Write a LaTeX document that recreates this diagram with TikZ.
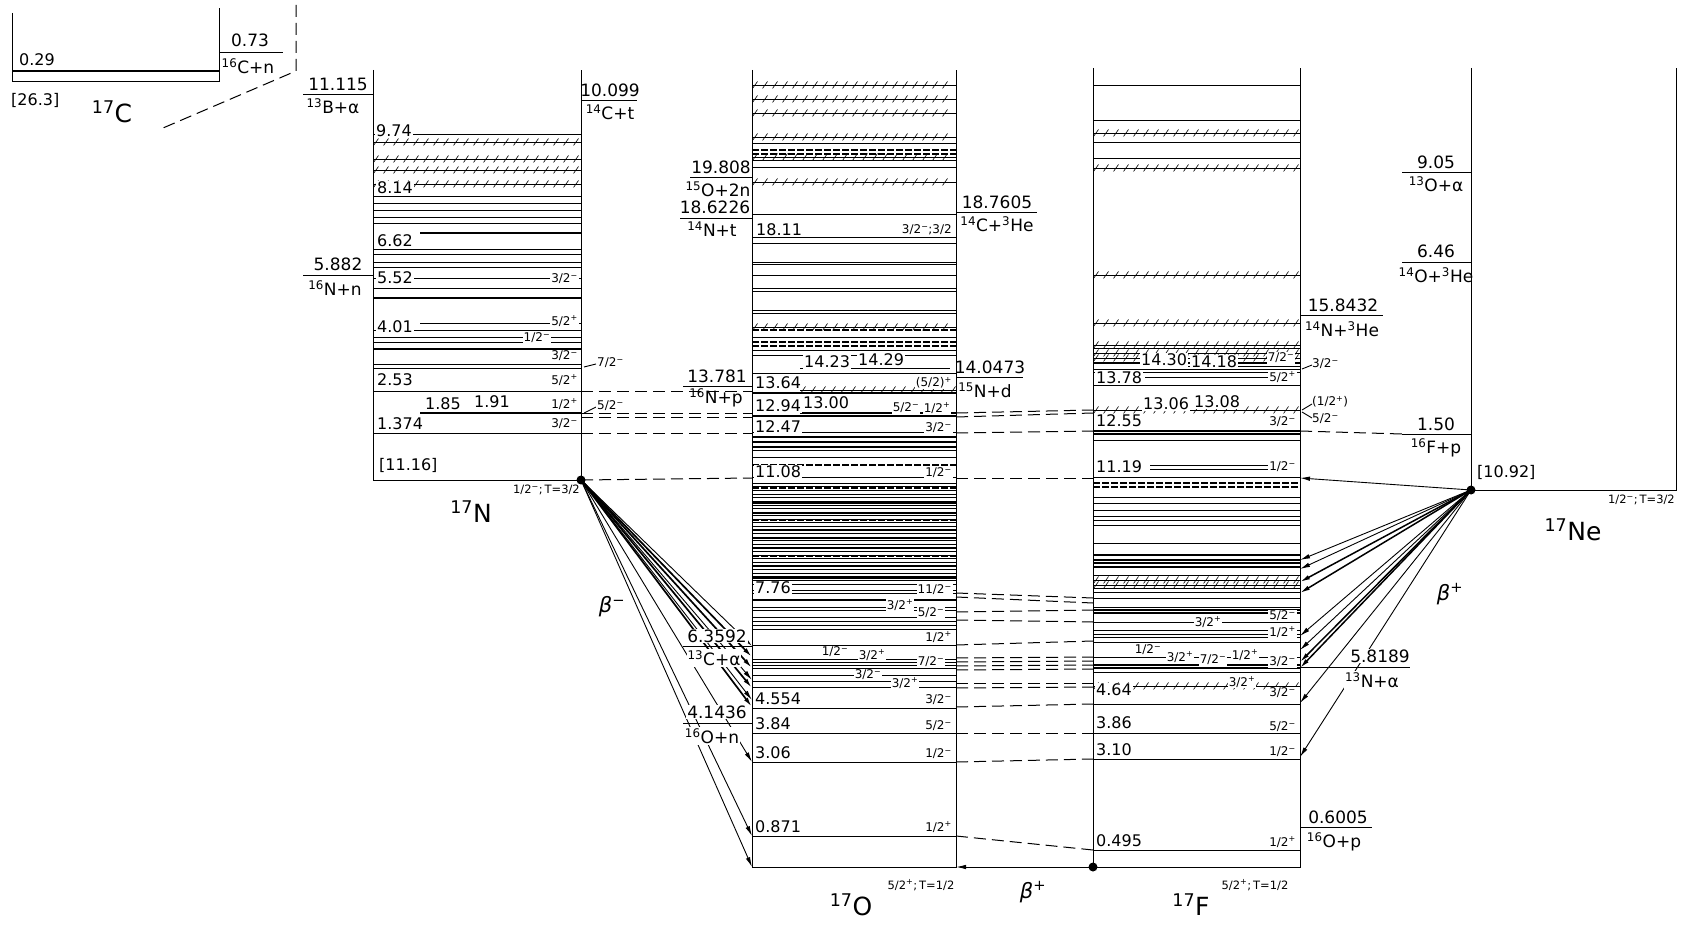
\documentclass[tikz,border=0pt]{standalone}
\usepackage{fontspec}
\setmainfont{DejaVu Sans}
\usetikzlibrary{decorations.markings,arrows.meta}
\newcommand\Jp{\textsuperscript{+}}
\newcommand\Jm{\textsuperscript{−}}
\newcommand\Sp[1]{\textsuperscript{#1}}
\tikzset{
 lv/.style={line width=0.9pt},
 lvk/.style={line width=2.2pt},
 hat/.style={line width=0.9pt, postaction={decorate}, decoration={markings, mark=between positions 3pt and -3pt step 10pt with {\draw[line width=0.6pt] (-2.5pt,-3.5pt) -- (2.5pt,3.5pt);}}},
 dd/.style={line width=1.2pt, dash pattern=on 7pt off 2pt},
 dsh/.style={line width=1pt, dash pattern=on 12pt off 6pt},
 frame/.style={line width=1pt},
 lab/.style={font=\fontsize{16}{16}\selectfont, anchor=west, inner sep=1pt},
 spn/.style={font=\fontsize{12}{12}\selectfont, inner sep=1pt},
 sml/.style={font=\fontsize{11.5}{11.5}\selectfont, inner sep=1pt},
 thr/.style={font=\fontsize{17}{17}\selectfont, inner sep=1pt},
 nuc/.style={font=\fontsize{25}{25}\selectfont, inner sep=1pt},
 bet/.style={font=\fontsize{21}{21}\selectfont\itshape, inner sep=1pt},
 bar/.style={-{Latex[length=10pt,width=4.5pt]}},
}
\begin{document}
\begin{tikzpicture}[x=1pt,y=-1pt]
\useasboundingbox (0,0) rectangle (1690,925);
\fill[white] (0,0) rectangle (1690,925);

% ---------------- 17C
\draw[frame] (12,13) -- (12,82) -- (219,82) -- (219,8);
\draw[line width=1.6pt] (12,71) -- (219,71);
\draw[lv] (219,52) -- (283,52);
\draw[dsh] (296,5) -- (296,71) -- (163,128);
\node[lab] (c029) at (18,60) {0.29};
\node[lab] (c263) at (10,100) {[26.3]};
\node[nuc] (C17) at (112,112) {\Sp{17}C};
\node[thr] (c073) at (250,40) {0.73};
\node[thr] (c16n) at (248,66) {\Sp{16}C+n};

% ---------------- 17N
\draw[frame] (373,70) -- (373,480) -- (581,480) -- (581,70);
\foreach \y in {134,196,203,210,217,223,249,254,262,267,278,288,330,337,342,364,368,391,433}
  \draw[lv] (373,\y) -- (581,\y);
\foreach \y in {298,349} \draw[line width=1.8pt] (373,\y) -- (581,\y);
\foreach \y in {142,159,170,184} \draw[hat] (373,\y) -- (581,\y);
\draw[line width=1.8pt] (420,233) -- (581,233);
\draw[lv] (420,323) -- (581,323);
\draw[line width=1.8pt] (420,413) -- (581,413);
\draw[lv] (303,94) -- (373,94);
\draw[lv] (303,275) -- (373,275);
\draw[lv] (581,100) -- (637,100);
\coordinate (Ndot) at (581,480);

% ---------------- 17O
\draw[frame] (752,70) -- (752,867) -- (956,867) -- (956,70);
\foreach \y in {143,160,167,214,237,243,262,264,275,288,291,310,313,337,350,355,373,432,450,457,477,
  483,486,490,494,497,501,505,508,512,515,519,522,526,529,533,537,540,544,548,551,555,558,562,566,569,573,576,580,584,
  590,593,607,610,617,621,625,629,645,659,662,665,668,675,681,687,708,733,762,836}
  \draw[lv] (752,\y) -- (956,\y);
\foreach \y in {393,416,437,442,447,503,513,530,538,548,566,578,600} \draw[lvk] (752,\y) -- (956,\y);
\foreach \y in {85,99,113,137,157,182,327} \draw[hat] (752,\y) -- (956,\y);
\foreach \y in {150,154,330,342,346,465,488,520,556} \draw[dd] (752,\y) -- (956,\y);
\draw[lv] (800,368) -- (950,368);
\draw[hat] (800,390) -- (956,390);
\draw[lvk] (800,413) -- (956,413);
\draw[lv] (690,177) -- (752,177);
\draw[lv] (680,218) -- (752,218);
\draw[lv] (683,386) -- (752,386);
\draw[lv] (683,646) -- (752,646);
\draw[lv] (683,723) -- (752,723);
\draw[lv] (956,212) -- (1037,212);
\draw[lv] (956,377) -- (1023,377);

% ---------------- 17F
\draw[frame] (1093,68) -- (1093,867) -- (1300,867) -- (1300,68);
\foreach \y in {85,120,142,158,348,369,372,385,440,477,497,503,510,516,520,525,543,575,588,592,598,607,630,634,637,642,657,672,704,733,759,850}
  \draw[lv] (1093,\y) -- (1300,\y);
\foreach \y in {363,431,434,555,560,563,567,610,613,665,668} \draw[lvk] (1093,\y) -- (1300,\y);
\foreach \y in {133,168,275,323,345,353,358,410,580,585,686} \draw[hat] (1093,\y) -- (1300,\y);
\foreach \y in {483,487} \draw[dd] (1093,\y) -- (1300,\y);
\draw[lv] (1140,366) -- (1300,366);
\draw[lv] (1145,377) -- (1270,377);
\draw[lv] (1150,465) -- (1275,465);
\draw[lv] (1150,469) -- (1275,469);
\draw[lv] (1093,622) -- (1300,622);
\draw[lv] (1300,315) -- (1383,315);
\draw[lv] (1300,667) -- (1410,667);
\draw[lv] (1300,827) -- (1372,827);

% ---------------- 17Ne
\draw[frame] (1471,68) -- (1471,490) -- (1676,490) -- (1676,68);
\draw[lv] (1402,172) -- (1471,172);
\draw[lv] (1402,262) -- (1471,262);
\draw[lv] (1402,434) -- (1471,434);
\coordinate (Nedot) at (1471,490);
\coordinate (Fdot) at (1093,867);

% ---------------- dashed correspondences
\draw[dsh] (581,391) -- (752,391);
\draw[dsh] (581,413) -- (752,413);
\draw[dsh] (581,417) -- (752,417);
\draw[dsh] (581,433) -- (752,433);
\draw[dsh] (Ndot) -- (752,478);
\draw[dsh] (956,413) -- (1093,410);
\draw[dsh] (956,417) -- (1093,413);
\draw[dsh] (956,433) -- (1093,431);
\draw[dsh] (956,478) -- (1093,478);
\draw[dsh] (1300,431) -- (1402,434);
\foreach \a/\b in {593/598,597/603,612/610,620/622,645/641,658/657,662/661,666/665,670/669,683/683,688/687,707/704,733/733,762/759,836/850}
  \draw[dsh] (956,\a) -- (1093,\b);

% ---------------- beta- decays of 17N
\foreach \t in {657,668,688,707} \draw[line width=1.7pt, bar] (Ndot) -- (752,\t);
\foreach \t in {646,680,700,762,836,867} \draw[lv, bar] (Ndot) -- (752,\t);
\fill (Ndot) circle (4.5pt);

% ---------------- beta+ decays of 17Ne
\draw[lv, bar] (Nedot) -- (1300,478);
\foreach \t in {560,569,636,650,703,757} \draw[lv, bar] (Nedot) -- (1300,\t);
\foreach \t in {582,593,662,668} \draw[line width=1.5pt, bar] (Nedot) -- (1300,\t);
\fill (Nedot) circle (4.5pt);

% ---------------- 17F -> 17O
\draw[lv, bar] (Fdot) -- (956,867);
\fill (Fdot) circle (4.5pt);

% ---------------- labels 17N
\node[lab, fill=white] at (375,131) {9.74};
\node[lab, fill=white] at (376,188) {8.14};
\node[lab, fill=white] at (376,241) {6.62};
\node[lab, fill=white] at (376,278) {5.52};
\node[spn, fill=white, anchor=east] at (579,279) {3/2\Jm};
\node[lab, fill=white] at (376,327) {4.01};
\node[spn, fill=white, anchor=east] at (579,321) {5/2\Jp};
\node[spn, fill=white] at (537,338) {1/2\Jm};
\node[spn, anchor=east] at (579,356) {3/2\Jm};
\draw[lv] (584,367) -- (596,364);
\node[spn, anchor=west] at (596,363) {7/2\Jm};
\node[lab] at (376,380) {2.53};
\node[spn, anchor=east] at (579,380) {5/2\Jp};
\node[lab] at (424,404) {1.85};
\node[lab] at (473,402) {1.91};
\node[spn, anchor=east] at (579,404) {1/2\Jp};
\draw[lv] (584,413) -- (596,407);
\node[spn, anchor=west, fill=white] at (596,406) {5/2\Jm};
\node[lab] at (376,424) {1.374};
\node[spn, anchor=east] at (579,424) {3/2\Jm};
\node[lab] at (378,465) {[11.16]};
\node[sml, anchor=north east] at (581,484) {1/2\Jm;\,T=3/2};
\node[nuc] (N17) at (471,512) {\Sp{17}N};
\node[thr] at (338,84) {11.115};
\node[thr] at (333,106) {\Sp{13}B+α};
\node[thr] at (338,264) {5.882};
\node[thr] at (335,288) {\Sp{16}N+n};
\node[thr] at (610,90) {10.099};
\node[thr] at (610,112) {\Sp{14}C+t};

% ---------------- labels 17O
\node[lab] at (755,230) {18.11};
\node[spn, anchor=east] at (953,230) {3/2\Jm;3/2};
\node[lab, fill=white] at (803,362) {14.23};
\node[lab, fill=white] at (857,360) {14.29};
\node[lab, fill=white] at (754,383) {13.64};
\node[spn, fill=white, anchor=east] at (953,383) {(5/2)\Jp};
\node[lab, fill=white] at (754,406) {12.94};
\node[lab, fill=white] at (802,403) {13.00};
\node[spn, fill=white] at (906,408) {5/2\Jm};
\node[spn, fill=white] at (937,408) {1/2\Jp};
\node[lab, fill=white] at (754,427) {12.47};
\node[spn, fill=white, anchor=east] at (953,428) {3/2\Jm};
\node[lab, fill=white] at (754,472) {11.08};
\node[spn, fill=white, anchor=east] at (953,473) {1/2\Jm};
\node[lab, fill=white] at (754,588) {7.76};
\node[spn, fill=white, anchor=east] at (953,590) {11/2\Jm};
\node[spn, fill=white] at (900,605) {3/2\Jp};
\node[spn, fill=white] at (931,613) {5/2\Jm};
\node[spn, anchor=east] at (953,637) {1/2\Jp};
\node[spn, fill=white] at (835,652) {1/2\Jm};
\node[spn, fill=white] at (872,655) {3/2\Jp};
\node[spn, fill=white] at (931,662) {7/2\Jm};
\node[spn, fill=white] at (868,675) {3/2\Jm};
\node[spn, fill=white] at (905,683) {3/2\Jp};
\node[lab] at (754,699) {4.554};
\node[spn, anchor=east] at (953,700) {3/2\Jm};
\node[lab] at (754,724) {3.84};
\node[spn, anchor=east] at (953,726) {5/2\Jm};
\node[lab] at (754,753) {3.06};
\node[spn, anchor=east] at (953,754) {1/2\Jm};
\node[lab] at (754,827) {0.871};
\node[spn, anchor=east] at (953,827) {1/2\Jp};
\node[sml] at (921,885) {5/2\Jp;\,T=1/2};
\node[nuc] (O17) at (851,905) {\Sp{17}O};
\node[thr] at (721,167) {19.808};
\node[thr] at (718,189) {\Sp{15}O+2n};
\node[thr] at (715,207) {18.6226};
\node[thr] at (712,229) {\Sp{14}N+t};
\node[thr, fill=white] at (717,376) {13.781};
\node[thr] at (716,398) {\Sp{16}N+p};
\node[thr, fill=white] at (717,636) {6.3592};
\node[thr, fill=white] at (714,658) {\Sp{13}C+α};
\node[thr, fill=white] at (717,712) {4.1436};
\node[thr, fill=white] at (712,736) {\Sp{16}O+n};
\node[thr] at (997,202) {18.7605};
\node[thr] at (997,224) {\Sp{14}C+\Sp{3}He};
\node[thr] at (990,367) {14.0473};
\node[thr] at (985,390) {\Sp{15}N+d};

% ---------------- labels 17F
\node[lab, fill=white] at (1140,360) {14.30};
\node[lab, fill=white] at (1190,362) {14.18};
\node[spn, fill=white] at (1281,358) {7/2\Jm};
\draw[lv] (1302,369) -- (1312,365);
\node[spn, anchor=west] at (1311,364) {3/2\Jm};
\node[lab, fill=white] at (1095,378) {13.78};
\node[spn, fill=white, anchor=east] at (1297,377) {5/2\Jp};
\node[lab, fill=white] at (1142,404) {13.06};
\node[lab, fill=white] at (1193,402) {13.08};
\draw[lv] (1302,410) -- (1312,404);
\node[spn, anchor=west] at (1311,402) {(1/2\Jp)};
\draw[lv] (1302,412) -- (1312,418);
\node[spn, anchor=west] at (1311,419) {5/2\Jm};
\node[lab] at (1095,421) {12.55};
\node[spn, anchor=east] at (1297,422) {3/2\Jm};
\node[lab, fill=white] at (1095,467) {11.19};
\node[spn, fill=white, anchor=east] at (1297,467) {1/2\Jm};
\node[spn, fill=white, anchor=east] at (1297,616) {5/2\Jm};
\node[spn, fill=white] at (1208,622) {3/2\Jp};
\node[spn, fill=white, anchor=east] at (1297,632) {1/2\Jp};
\node[spn, fill=white] at (1148,650) {1/2\Jm};
\node[spn, fill=white] at (1180,657) {3/2\Jp};
\node[spn, fill=white] at (1213,660) {7/2\Jm};
\node[spn, fill=white] at (1245,655) {1/2\Jp};
\node[spn, fill=white, anchor=east] at (1297,662) {3/2\Jm};
\node[spn, fill=white] at (1242,682) {3/2\Jp};
\node[lab, fill=white] at (1095,690) {4.64};
\node[spn, fill=white, anchor=east] at (1297,693) {3/2\Jm};
\node[lab] at (1095,723) {3.86};
\node[spn, anchor=east] at (1297,727) {5/2\Jm};
\node[lab] at (1095,750) {3.10};
\node[spn, anchor=east] at (1297,752) {1/2\Jm};
\node[lab] at (1095,841) {0.495};
\node[spn, anchor=east] at (1297,842) {1/2\Jp};
\node[sml] at (1255,885) {5/2\Jp;\,T=1/2};
\node[nuc] (F17) at (1191,905) {\Sp{17}F};
\node[thr] at (1343,305) {15.8432};
\node[thr] at (1342,329) {\Sp{14}N+\Sp{3}He};
\node[thr, fill=white] at (1380,656) {5.8189};
\node[thr, fill=white] at (1372,680) {\Sp{13}N+α};
\node[thr] at (1338,817) {0.6005};
\node[thr] at (1334,842) {\Sp{16}O+p};

% ---------------- labels 17Ne
\node[thr] at (1436,162) {9.05};
\node[thr] at (1436,184) {\Sp{13}O+α};
\node[thr] at (1436,251) {6.46};
\node[thr] at (1436,275) {\Sp{14}O+\Sp{3}He};
\node[thr] at (1436,424) {1.50};
\node[thr] at (1436,448) {\Sp{16}F+p};
\node[lab] at (1476,472) {[10.92]};
\node[sml, anchor=north east] at (1676,494) {1/2\Jm;\,T=3/2};
\node[nuc] (Ne17) at (1573,530) {\Sp{17}Ne};

% ---------------- beta labels
\node[bet] at (612,607) {β\Jm};
\node[bet] at (1450,594) {β\Jp};
\node[bet] at (1033,892) {β\Jp};
\end{tikzpicture}
\end{document}
